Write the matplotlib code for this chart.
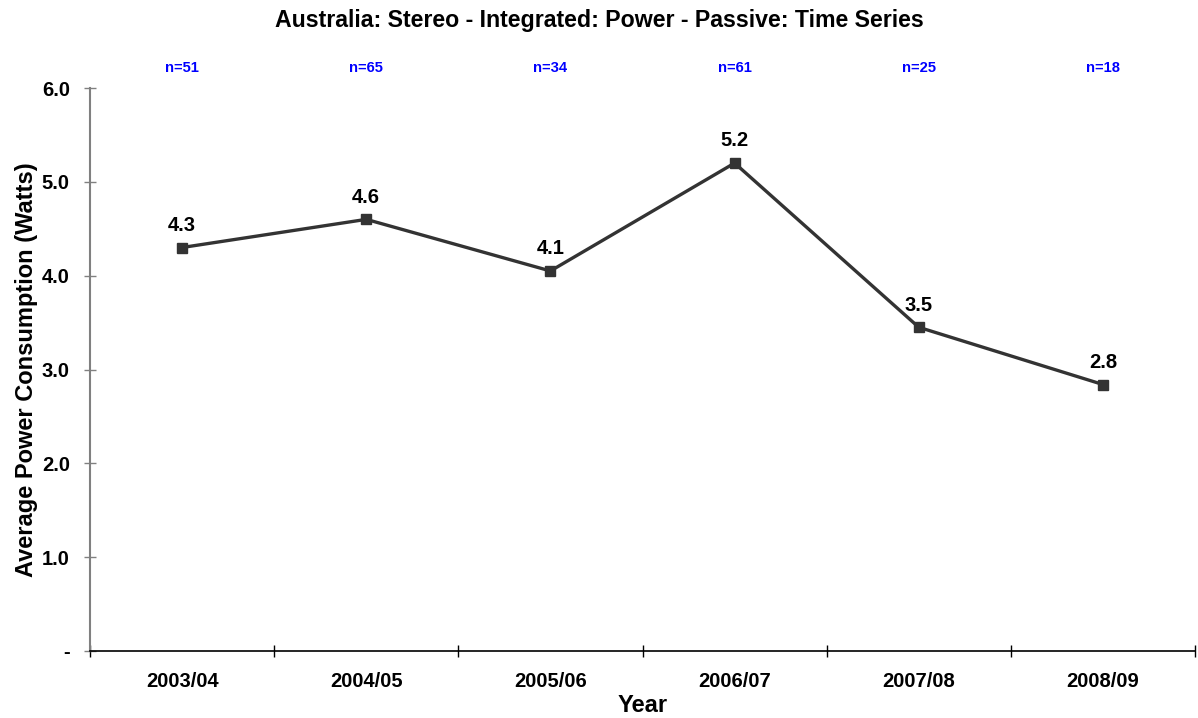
#!/usr/bin/env python3

import matplotlib

matplotlib.use("Agg")
import matplotlib.pyplot as plt
from matplotlib.ticker import FixedLocator, NullFormatter

years = ["2003/04", "2004/05", "2005/06", "2006/07", "2007/08", "2008/09"]
power = [4.30, 4.60, 4.05, 5.20, 3.45, 2.84]
value_labels = ["4.3", "4.6", "4.1", "5.2", "3.5", "2.8"]
counts = [51, 65, 34, 61, 25, 18]
y_ticks = [0, 1, 2, 3, 4, 5, 6]
y_tick_labels = ["-", "1.0", "2.0", "3.0", "4.0", "5.0", "6.0"]

plt.rcParams["font.family"] = ["Liberation Sans", "DejaVu Sans"]
plt.rcParams["font.weight"] = "bold"


def main() -> int:
    fig = plt.figure(figsize=(11.98, 7.18), dpi=100)
    ax = fig.add_axes([90 / 1198, 67 / 718, 1105 / 1198, 563 / 718])

    x = list(range(len(years)))
    ax.plot(x, power, color="#333333", lw=2.4, marker="s", ms=6.5, zorder=3)
    for xi, v, lab in zip(x, power, value_labels):
        ax.annotate(lab, (xi, v), xytext=(0, 12), textcoords="offset points",
                    ha="center", va="baseline", fontsize=14.5, fontweight="bold")

    ax.set_xlim(-0.5, len(years) - 0.5)
    ax.set_ylim(0, 6)

    ax.set_yticks(y_ticks)
    ax.set_yticklabels(y_tick_labels, fontsize=14.5, fontweight="bold")
    ax.tick_params(axis="y", direction="inout", length=9, width=1, color="#808080", pad=10)

    ax.set_xticks(x)
    ax.set_xticklabels(years, fontsize=14.5, fontweight="bold")
    ax.tick_params(axis="x", which="major", length=0, pad=15)
    ax.xaxis.set_minor_locator(FixedLocator([i - 0.5 for i in range(len(years) + 1)]))
    ax.xaxis.set_minor_formatter(NullFormatter())
    ax.tick_params(axis="x", which="minor", direction="inout", length=9, width=1, color="black")

    for s in ("top", "right"):
        ax.spines[s].set_visible(False)
    ax.spines["left"].set_color("#808080")
    ax.spines["left"].set_linewidth(1.5)
    ax.spines["bottom"].set_color("black")
    ax.spines["bottom"].set_linewidth(1.2)

    ax.set_ylabel("Average Power Consumption (Watts)", fontsize=17, fontweight="bold", labelpad=3)
    ax.set_xlabel("Year", fontsize=17, fontweight="bold", labelpad=2.5)

    for xi, n in zip(x, counts):
        ax.text(xi, 1.035, f"n={n}", transform=ax.get_xaxis_transform(),
                ha="center", va="center", fontsize=10.6, fontweight="bold", color="#0000FF")

    fig.text(0.5, 1 - 20 / 718, "Australia: Stereo - Integrated: Power - Passive: Time Series",
             ha="center", va="center", fontsize=16.7, fontweight="bold")

    fig.savefig("out.png", dpi=100)
    plt.close(fig)
    return 0


if __name__ == "__main__":
    raise SystemExit(main())
